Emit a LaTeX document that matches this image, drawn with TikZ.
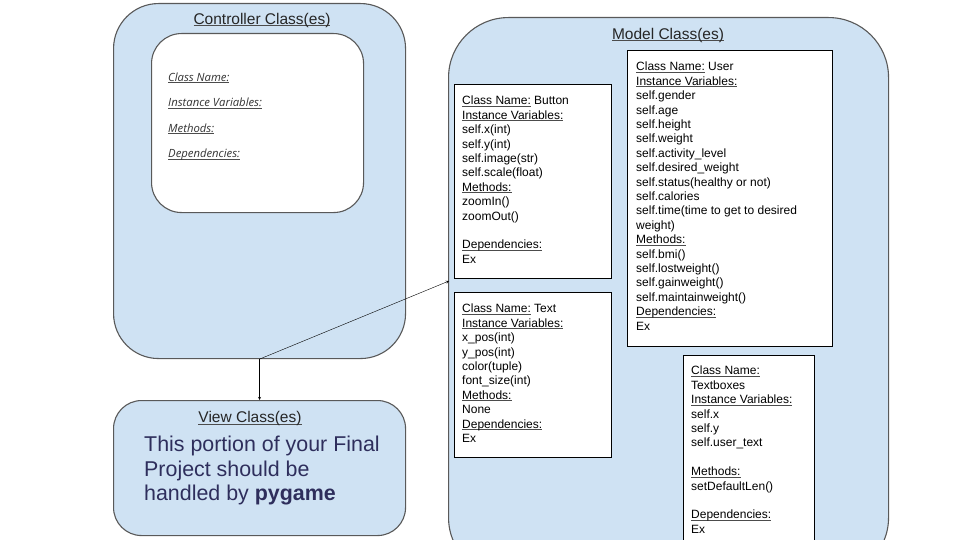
\documentclass[tikz,border=0pt]{standalone}
\usepackage{fontspec}
\setmainfont{Liberation Sans}
\newfontfamily\labelfont{Open Sans}
\usetikzlibrary{arrows}

\definecolor{lightblue}{HTML}{CFE2F3}
\definecolor{bordergray}{HTML}{595959}
\definecolor{labelgray}{HTML}{333333}
\definecolor{viewtext}{HTML}{2E2E5C}

% underline close to the baseline
\newsavebox\ulbox
\newcommand{\ul}[1]{\sbox\ulbox{#1}\rlap{\color{black!70}\rule[-1.6pt]{\wd\ulbox}{0.6pt}}\usebox\ulbox}

\begin{document}
\begin{tikzpicture}[x=1pt, y=-1pt]

% definitions
\tikzstyle{outer} = [rectangle, anchor=north west, draw=bordergray, fill=lightblue, line width=1.1pt]

\tikzstyle{inner} = [rectangle, anchor=north west, draw=black, fill=white, line width=0.9pt]

\tikzstyle{title} = [anchor=base, inner sep=0pt, font=\fontsize{15.5}{18}\selectfont, text=black!85]

\tikzstyle{classtext} = [anchor=north west, inner sep=0pt, align=left, font=\fontsize{12}{14.4}\selectfont]

\tikzstyle{arrow} = [->,>=stealth, thin]

\useasboundingbox (0,0) rectangle (960,540);
\clip (0,0) rectangle (960,540);

% the boxes
\node (ctrl) [outer, rounded corners=45pt, minimum width=292pt, minimum height=355pt] at (113,3) {};

\node (ctrlin) [outer, rounded corners=30pt, fill=white, minimum width=212pt, minimum height=179pt] at (151,33) {};

\node (model) [outer, rounded corners=60pt, minimum width=440pt, minimum height=560pt] at (448,17) {};

\node (view) [outer, rounded corners=28pt, minimum width=292pt, minimum height=135pt] at (113,400) {};

\node (button) [inner, minimum width=157pt, minimum height=194pt] at (454,84) {};

\node (text) [inner, minimum width=157pt, minimum height=165pt] at (454,292) {};

\node (user) [inner, minimum width=205pt, minimum height=296pt] at (627,50) {};

\node (textboxes) [inner, minimum width=131pt, minimum height=200pt] at (683,355) {};

% the titles
\node (ctrltitle) [title] at (262,24.5) {\ul{Controller Class(es)}};

\node (modeltitle) [title] at (668,39.5) {\ul{Model Class(es)}};

\node (viewtitle) [title] at (250,422.5) {\ul{View Class(es)}};

% the texts
\node (ctrllabels) [anchor=north west, inner sep=0pt, align=left, text=labelgray, font=\labelfont\itshape\fontsize{11.3}{25.5}\selectfont] at (168,72.5) {\ul{Class Name:}\\ \ul{Instance Variables:}\\ \ul{Methods:}\\ \ul{Dependencies:}};

\node (buttontext) [classtext] at (462,96) {\ul{Class Name:} Button\\ \ul{Instance Variables:}\\ self.x(int)\\ self.y(int)\\ self.image(str)\\ self.scale(float)\\ \ul{Methods:}\\ zoomIn()\\ zoomOut()\\[14.4pt] \ul{Dependencies:}\\ Ex};

\node (texttext) [classtext] at (462,304) {\ul{Class Name:} Text\\ \ul{Instance Variables:}\\ x\_pos(int)\\ y\_pos(int)\\ color(tuple)\\ font\_size(int)\\ \ul{Methods:}\\ None\\ \ul{Dependencies:}\\ Ex};

\node (usertext) [classtext] at (636,62) {\ul{Class Name:} User\\ \ul{Instance Variables:}\\ self.gender\\ self.age\\ self.height\\ self.weight\\ self.activity\_level\\ self.desired\_weight\\ self.status(healthy or not)\\ self.calories\\ self.time(time to get to desired\\ weight)\\ \ul{Methods:}\\ self.bmi()\\ self.lostweight()\\ self.gainweight()\\ self.maintainweight()\\ \ul{Dependencies:}\\ Ex};

\node (textboxestext) [classtext] at (691,366) {\ul{Class Name:}\\ Textboxes\\ \ul{Instance Variables:}\\ self.x\\ self.y\\ self.user\_text\\[14.4pt] \ul{Methods:}\\ setDefaultLen()\\[14.4pt] \ul{Dependencies:}\\ Ex};

\node (viewtext) [anchor=north west, inner sep=0pt, align=left, text=viewtext, font=\fontsize{21.4}{24.5}\selectfont] at (144,436) {This portion of your Final\\ Project should be\\ handled by \textbf{pygame}};

% the arrows
\coordinate (modeltip) at (449,281);

\draw [arrow] (ctrl.south) -- (view.north);
\draw [arrow] (ctrl.south) -- (modeltip);

\end{tikzpicture}
\end{document}
